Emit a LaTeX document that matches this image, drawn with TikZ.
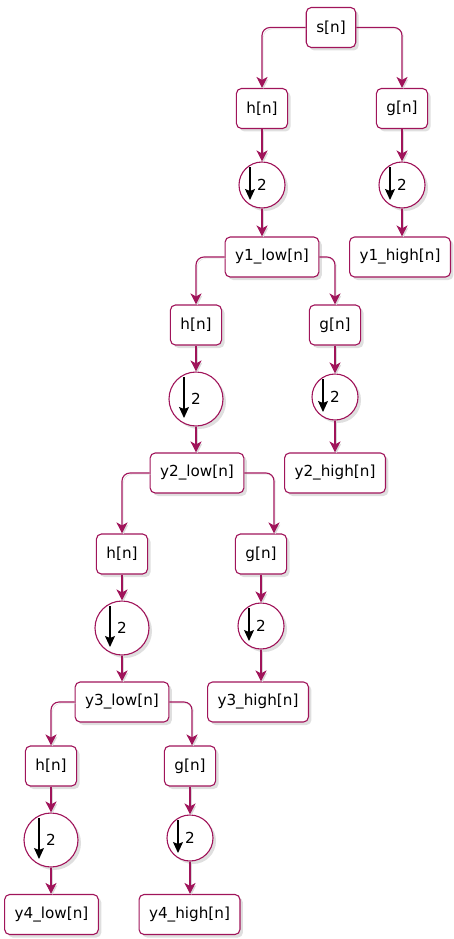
\documentclass[tikz,border=0pt]{standalone}
\usepackage{fontspec}
\setmainfont{DejaVu Sans}
\usetikzlibrary{arrows.meta,shadows}
\definecolor{plum}{RGB}{160,20,90}

\begin{document}
\begin{tikzpicture}[x=1pt,y=-1pt,>={Stealth[length=11pt,width=11pt,inset=3pt]}]
\tikzset{
	every node/.style={font=\fontsize{15.2}{18}\selectfont},
	blk/.style={draw=plum,line width=1.1pt,fill=white,rounded corners=5pt,
		minimum height=40pt,inner xsep=10pt,
		drop shadow={shadow xshift=3pt,shadow yshift=-3pt,opacity=0.25}},
	dwn/.style={circle,draw=plum,line width=1.1pt,fill=white,minimum size=46pt,
		inner sep=0pt,
		drop shadow={shadow xshift=3pt,shadow yshift=-3pt,opacity=0.25},
		path picture={\draw[black,line width=1.2pt,-{Stealth[length=11pt,width=10pt,inset=2pt]}]
			([shift={(-12,5)}]path picture bounding box.north) --
			([shift={(-12,-8)}]path picture bounding box.south);}},
	big/.style={minimum size=54pt},
	wire/.style={draw=plum,line width=1.1pt,->,rounded corners=8pt,
		preaction={draw=black!15,transform canvas={shift={(1.5pt,-1.5pt)}}}}
}
\useasboundingbox (0,0) rectangle (453,939);

% first split
\node[blk] (s) at (331,27.5) {s[n]};
\node[blk] (h1) at (262,108.5) {h[n]};
\node[blk] (g1) at (402,108.5) {g[n]};
\node[dwn] (d1) at (262,185) {2};
\node[dwn] (e1) at (402,185) {2};
\node[blk] (y1l) at (272,257) {y1\_low[n]};
\node[blk] (y1h) at (400,257) {y1\_high[n]};

% second split
\node[blk] (h2) at (196,325) {h[n]};
\node[blk] (g2) at (335,325) {g[n]};
\node[dwn,big] (d2) at (196,399) {2};
\node[dwn] (e2) at (335,397) {2};
\node[blk] (y2l) at (197,473) {y2\_low[n]};
\node[blk] (y2h) at (335,473) {y2\_high[n]};

% third split
\node[blk] (h3) at (122,554) {h[n]};
\node[blk] (g3) at (261,554) {g[n]};
\node[dwn,big] (d3) at (122,628) {2};
\node[dwn] (e3) at (261,626) {2};
\node[blk] (y3l) at (122,702) {y3\_low[n]};
\node[blk] (y3h) at (258,702) {y3\_high[n]};

% fourth split
\node[blk] (h4) at (51,766) {h[n]};
\node[blk] (g4) at (190,766) {g[n]};
\node[dwn,big] (d4) at (51,840) {2};
\node[dwn] (e4) at (190,838) {2};
\node[blk] (y4l) at (51.5,914.5) {y4\_low[n]};
\node[blk] (y4h) at (189.5,914.5) {y4\_high[n]};

\draw[wire] (s.west) -| (h1.north);
\draw[wire] (s.east) -| (g1.north);
\draw[wire] (h1.south) -- (d1.north);
\draw[wire] (g1.south) -- (e1.north);
\draw[wire] (d1.south) -- (d1.south |- y1l.north);
\draw[wire] (e1.south) -- (e1.south |- y1h.north);

\draw[wire] (y1l.west) -| (h2.north);
\draw[wire] (y1l.east) -| (g2.north);
\draw[wire] (h2.south) -- (d2.north);
\draw[wire] (g2.south) -- (e2.north);
\draw[wire] (d2.south) -- (d2.south |- y2l.north);
\draw[wire] (e2.south) -- (e2.south |- y2h.north);

\draw[wire] (y2l.west) -| (h3.north);
\draw[wire] (y2l.east) -| ([xshift=13pt]g3.north);
\draw[wire] (h3.south) -- (d3.north);
\draw[wire] (g3.south) -- (e3.north);
\draw[wire] (d3.south) -- (d3.south |- y3l.north);
\draw[wire] (e3.south) -- (e3.south |- y3h.north);

\draw[wire] (y3l.west) -| (h4.north);
\draw[wire] (y3l.east) -| ([xshift=2pt]g4.north);
\draw[wire] (h4.south) -- (d4.north);
\draw[wire] (g4.south) -- (e4.north);
\draw[wire] (d4.south) -- (d4.south |- y4l.north);
\draw[wire] (e4.south) -- (e4.south |- y4h.north);
\end{tikzpicture}
\end{document}
